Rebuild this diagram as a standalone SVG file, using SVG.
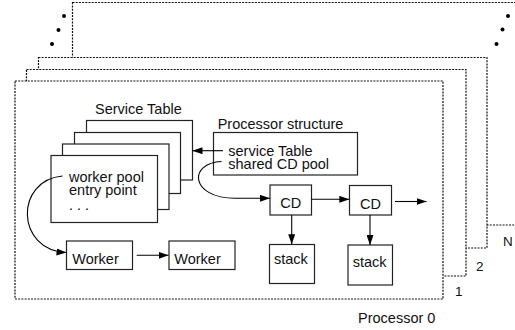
<svg xmlns="http://www.w3.org/2000/svg" width="515" height="330" viewBox="0 0 515 330">
  <style>
    text { font-family: "Liberation Sans", Arial, sans-serif; font-size: 14.5px; fill: #111; }
    .lbl { font-size: 13.5px; }
    .frame { fill: #fff; stroke: #111; stroke-width: 1.2; stroke-dasharray: 2 1.2; }
    .box { fill: #fff; stroke: #222; stroke-width: 1.2; }
    .conn { fill: none; stroke: #000; stroke-width: 1.1; }
    .dot { fill: #000; }
  </style>
  <defs>
    <marker id="arrow" markerUnits="userSpaceOnUse" markerWidth="10" markerHeight="7" refX="10" refY="3.5" orient="auto">
      <path d="M0,0 L10,3.5 L0,7 z" fill="#000"/>
    </marker>
  </defs>

  <!-- processor frames, back to front -->
  <g id="processor-n">
    <rect class="frame" x="72.5" y="2.5" width="460" height="222.5"/>
    <text class="lbl" x="503" y="246">N</text>
  </g>
  <g id="ellipsis-dots">
    <circle class="dot" cx="64" cy="16" r="2"/>
    <circle class="dot" cx="58.5" cy="30" r="2"/>
    <circle class="dot" cx="52" cy="44" r="2"/>
    <circle class="dot" cx="508" cy="16" r="2"/>
    <circle class="dot" cx="502.5" cy="29.5" r="2"/>
    <circle class="dot" cx="496.5" cy="44" r="2"/>
  </g>
  <g id="processor-2">
    <rect class="frame" x="38.5" y="57.5" width="448.5" height="190.5"/>
    <text class="lbl" x="476" y="270.5">2</text>
  </g>
  <g id="processor-1">
    <rect class="frame" x="26.5" y="69.5" width="439.5" height="206.5"/>
    <text class="lbl" x="455" y="296">1</text>
  </g>
  <g id="processor-0">
    <rect class="frame" x="15" y="81" width="428" height="218"/>
    <text x="358" y="323">Processor 0</text>
  </g>

  <!-- service table: stacked entries -->
  <g id="service-table">
    <text x="95" y="113.5">Service Table</text>
    <rect class="box" x="86.5" y="120.5" width="106" height="59.5"/>
    <rect class="box" x="74.5" y="132.5" width="106" height="61"/>
    <rect class="box" x="62.5" y="144" width="106.5" height="65.5"/>
    <rect class="box" x="51" y="155.5" width="106.5" height="67"/>
    <text x="69" y="182.3">worker pool</text>
    <text x="69" y="194.5">entry point</text>
    <text x="69" y="210">. . .</text>
  </g>

  <g id="processor-structure">
    <text x="217.7" y="128.5">Processor structure</text>
    <rect class="box" x="213.5" y="132.5" width="144" height="42.5"/>
    <text x="228.3" y="156">service Table</text>
    <text x="228.3" y="168.5">shared CD pool</text>
  </g>

  <g id="cd-1">
    <rect class="box" x="270" y="185" width="41.5" height="30"/>
    <text x="290.8" y="208.3" text-anchor="middle">CD</text>
  </g>
  <g id="cd-2">
    <rect class="box" x="349.5" y="185.5" width="42" height="29.5"/>
    <text x="370.5" y="209" text-anchor="middle">CD</text>
  </g>
  <g id="stack-1">
    <rect class="box" x="269.5" y="244.5" width="45" height="39"/>
    <text x="274" y="264">stack</text>
  </g>
  <g id="stack-2">
    <rect class="box" x="348" y="245" width="44.5" height="40"/>
    <text x="352.7" y="266.7">stack</text>
  </g>
  <g id="worker-1">
    <rect class="box" x="66.5" y="241" width="66" height="28.5"/>
    <text x="72.3" y="264">Worker</text>
  </g>
  <g id="worker-2">
    <rect class="box" x="169" y="241" width="66" height="28.5"/>
    <text x="174.3" y="264">Worker</text>
  </g>

  <!-- connectors -->
  <g id="connectors">
    <path class="conn" marker-end="url(#arrow)" d="M223,150.7 L192.5,150.7"/>
    <path class="conn" marker-end="url(#arrow)" d="M221.5,161.5 C188,163 190,198 235,198.3 L270,198.3"/>
    <path class="conn" marker-end="url(#arrow)" d="M62.5,176 C15,180 15,250 66.5,252.5"/>
    <path class="conn" marker-end="url(#arrow)" d="M136.7,255.3 L168.5,255.3"/>
    <path class="conn" marker-end="url(#arrow)" d="M311.5,199.3 L349.3,199.3"/>
    <path class="conn" marker-end="url(#arrow)" d="M395,201.5 L426.5,201.5"/>
    <path class="conn" marker-end="url(#arrow)" d="M291.7,215 L291.7,244.3"/>
    <path class="conn" marker-end="url(#arrow)" d="M370,215 L370,245"/>
  </g>
</svg>
